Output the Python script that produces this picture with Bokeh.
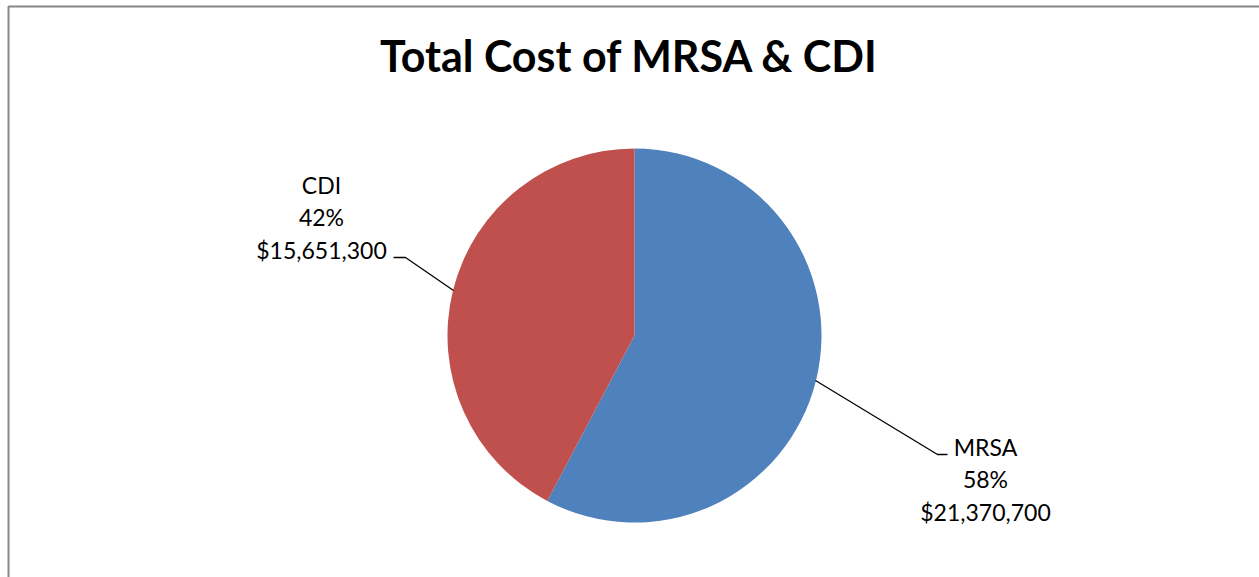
import math
from bokeh.plotting import figure
from bokeh.models import Range1d, ColumnDataSource
from bokeh.core.properties import value
from bokeh.embed import file_html
from bokeh.resources import INLINE

# ---- data ----
title_text = "Total Cost of MRSA & CDI"
categories = ["MRSA", "CDI"]
costs = [21370700, 15651300]
colors = ["#4F81BD", "#C0504D"]

# ---- layout (reference pixel coordinates, y measured from top) ----
W, H = 1259, 577
FONT = "Lato"
cx, cy, R = 634, 335, 187
label_centers = [(985, 446), (321, 184)]       # first-line anchor
line_gap = 32.5
leaders = [
    [(815, 380), (937, 454), (947, 454)],
    [(453, 290), (405, 257), (393, 257)],
]

def fy(y):
    return H - y

p = figure(width=W, height=H, x_range=Range1d(0, W), y_range=Range1d(0, H),
           output_backend="svg", toolbar_location=None, min_border=0,
           x_axis_location=None, y_axis_location=None)
p.grid.visible = False
p.outline_line_color = None
p.background_fill_color = "white"
p.border_fill_color = "white"

# chart border
p.quad(left=[8], right=[1400], top=[fy(6)], bottom=[fy(700)],
       fill_color=None, line_color="#868686", line_width=2)

# pie
total = float(sum(costs))
fr = [c / total for c in costs]
starts, ends = [], []
cum = 0.0
for f in fr:
    starts.append(math.pi / 2 - 2 * math.pi * cum)
    cum += f
    ends.append(math.pi / 2 - 2 * math.pi * cum)
src = ColumnDataSource(dict(cat=categories, start=starts, end=ends, color=colors,
                            x=[cx] * len(costs), y=[fy(cy)] * len(costs)))
p.wedge(x="x", y="y", radius=R, start_angle="start", end_angle="end",
        direction="clock", fill_color="color", line_color=None, source=src)

# leader lines
p.multi_line(xs=[[pt[0] for pt in l] for l in leaders],
             ys=[[fy(pt[1]) for pt in l] for l in leaders],
             line_color="black", line_width=1.3)

# labels
lx, ly, lt = [], [], []
for i, cat in enumerate(categories):
    pct = "%d%%" % round(fr[i] * 100)
    money = "${:,}".format(costs[i])
    bx, by = label_centers[i]
    for j, t in enumerate([cat, pct, money]):
        lx.append(bx)
        ly.append(fy(by + j * line_gap))
        lt.append(t)
p.text(x=lx, y=ly, text=lt, text_font=value(FONT), text_font_size="23px",
       text_align="center", text_baseline="alphabetic", text_color="black")

# title
p.text(x=[629], y=[fy(55)], text=[title_text], text_font=value(FONT),
       text_font_size="43px", text_font_style="bold", text_align="center",
       text_baseline="alphabetic", text_color="black")

open("out.html", "w").write(file_html(p, INLINE))
